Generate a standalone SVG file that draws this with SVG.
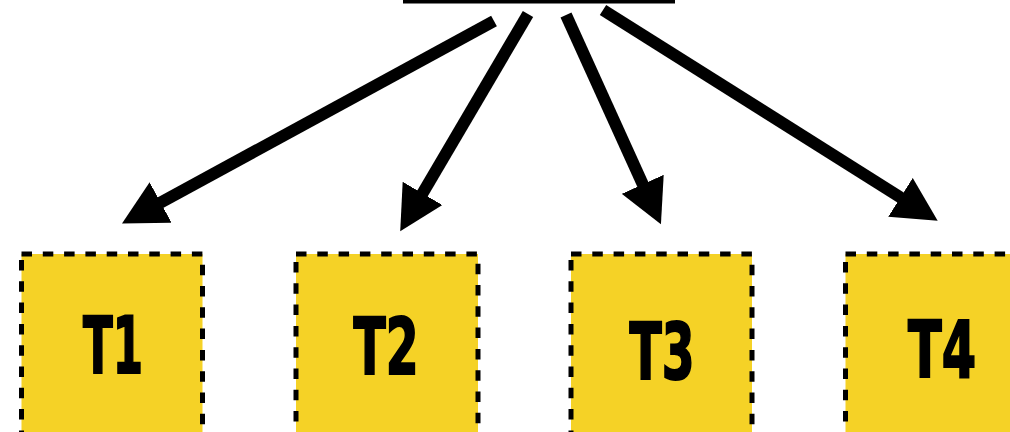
<svg xmlns="http://www.w3.org/2000/svg" width="1010" height="432" viewBox="0 0 1010 432">
  <style>
    .box { fill: #F5D226; stroke: #000; stroke-width: 5; stroke-dasharray: 10.5 10.8; }
    .lbl { font-family: "DejaVu Sans", "Liberation Sans", sans-serif; font-weight: bold; font-stretch: condensed; font-size: 79px; fill: #000; stroke: #000; stroke-width: 2; text-anchor: middle; }
    .arr { stroke: #000; stroke-width: 12; fill: none; stroke-linecap: butt; }
  </style>
  <defs>
    <marker id="head" viewBox="0 0 44 46" refX="3" refY="23" markerWidth="44" markerHeight="46" markerUnits="userSpaceOnUse" orient="auto">
      <path d="M0,0 L44,23 L0,46 z" fill="#000"/>
    </marker>
  </defs>
  <rect id="source-bar" x="403" y="0" width="272" height="3.5" fill="#000"/>
  <g id="connectors">
    <line class="arr" x1="494" y1="21" x2="158" y2="204" marker-end="url(#head)"/>
    <line class="arr" x1="528" y1="14" x2="421" y2="196" marker-end="url(#head)"/>
    <line class="arr" x1="566" y1="15" x2="644" y2="187" marker-end="url(#head)"/>
    <line class="arr" x1="603" y1="10" x2="903" y2="199" marker-end="url(#head)"/>
  </g>
  <g id="T1">
    <rect class="box" x="21.5" y="254" width="181" height="200"/>
    <text class="lbl" x="113" y="373" textLength="60" lengthAdjust="spacingAndGlyphs">T1</text>
  </g>
  <g id="T2">
    <rect class="box" x="296" y="254" width="182" height="200"/>
    <text class="lbl" x="386" y="374" textLength="65" lengthAdjust="spacingAndGlyphs">T2</text>
  </g>
  <g id="T3">
    <rect class="box" x="571" y="254" width="181" height="200"/>
    <text class="lbl" x="662" y="379" textLength="65" lengthAdjust="spacingAndGlyphs">T3</text>
  </g>
  <g id="T4">
    <rect class="box" x="845.5" y="254" width="182" height="200"/>
    <text class="lbl" x="942" y="377" textLength="68" lengthAdjust="spacingAndGlyphs">T4</text>
  </g>
</svg>
